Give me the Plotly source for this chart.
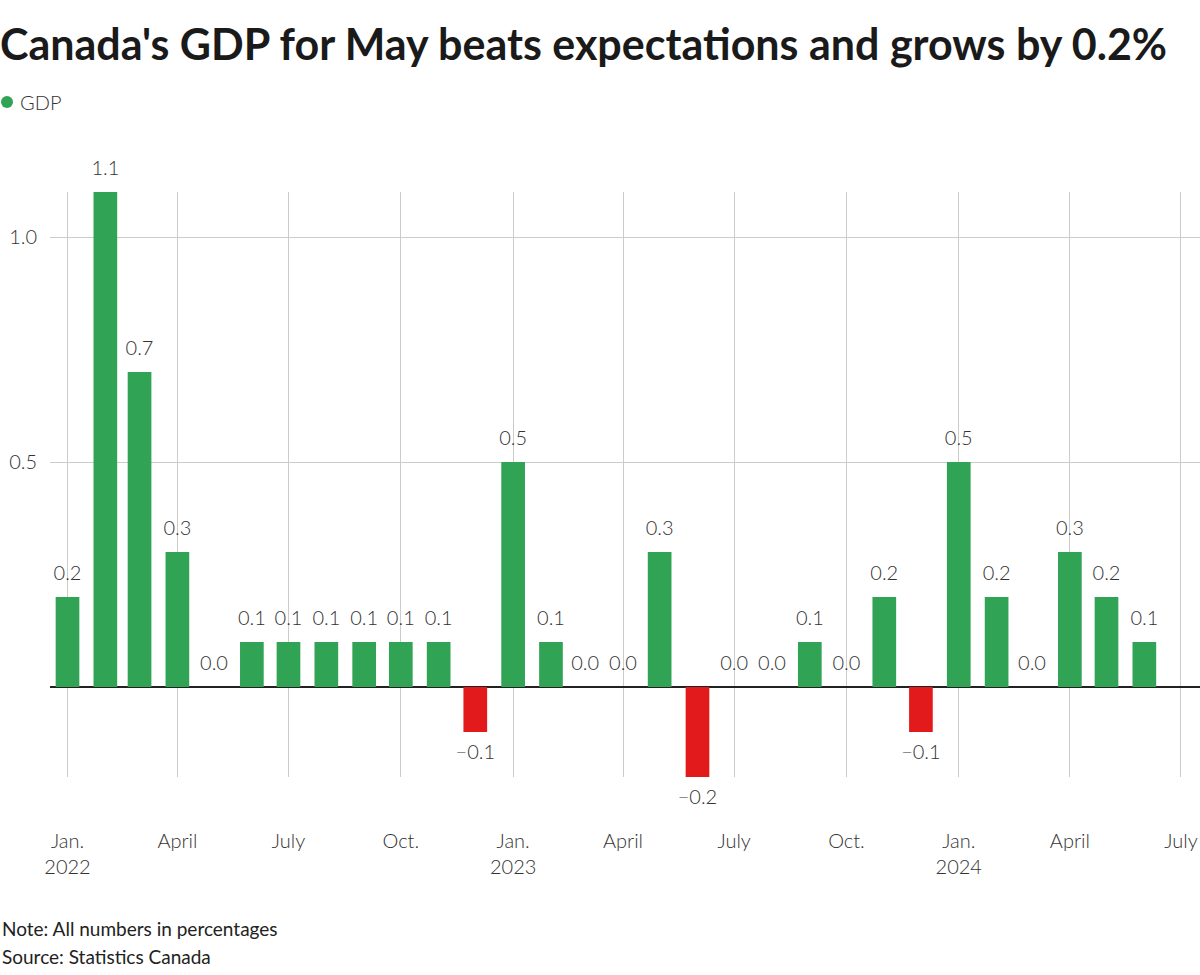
import plotly.graph_objects as go

months = [
    "2022-01-01", "2022-02-01", "2022-03-01", "2022-04-01", "2022-05-01", "2022-06-01",
    "2022-07-01", "2022-08-01", "2022-09-01", "2022-10-01", "2022-11-01", "2022-12-01",
    "2023-01-01", "2023-02-01", "2023-03-01", "2023-04-01", "2023-05-01", "2023-06-01",
    "2023-07-01", "2023-08-01", "2023-09-01", "2023-10-01", "2023-11-01", "2023-12-01",
    "2024-01-01", "2024-02-01", "2024-03-01", "2024-04-01", "2024-05-01", "2024-06-01",
]
gdp = [0.2, 1.1, 0.7, 0.3, 0.0, 0.1, 0.1, 0.1, 0.1, 0.1, 0.1, -0.1,
       0.5, 0.1, 0.0, 0.0, 0.3, -0.2, 0.0, 0.0, 0.1, 0.0, 0.2, -0.1,
       0.5, 0.2, 0.0, 0.3, 0.2, 0.1]

tick_dates = ["2022-01-01", "2022-04-01", "2022-07-01", "2022-10-01",
              "2023-01-01", "2023-04-01", "2023-07-01", "2023-10-01",
              "2024-01-01", "2024-04-01", "2024-07-01"]
tick_labels = ["Jan.<br>2022", "April", "July", "Oct.",
               "Jan.<br>2023", "April", "July", "Oct.",
               "Jan.<br>2024", "April", "July"]

GREEN = "#31a354"
RED = "#e31a1c"
FONT = "Lato, sans-serif"
TXT = "#333333"

colors = [GREEN if v >= 0 else RED for v in gdp]
labels = [("\u2212" if v < 0 else "") + f"{abs(v):.1f}" for v in gdp]
positions = ["bottom center" if v < 0 else "top center" for v in gdp]

fig = go.Figure()
fig.add_trace(go.Bar(
    x=months, y=gdp, name="GDP", marker=dict(color=colors, line=dict(width=0)),
    width=19.4 * 86400000, showlegend=False, hoverinfo="x+y",
))
fig.add_trace(go.Scatter(
    x=months, y=gdp, mode="markers+text", text=labels, textposition=positions,
    marker=dict(size=17, opacity=0, color=GREEN),
    textfont=dict(family=FONT, size=20, color=TXT, weight=300),
    showlegend=False, hoverinfo="skip", cliponaxis=False,
))

fig.update_layout(
    width=1200, height=975,
    margin=dict(l=50, r=0, t=192, b=198, autoexpand=False),
    paper_bgcolor="white", plot_bgcolor="white",
    title=dict(
        text="<b>Canada's GDP for May beats expectations and grows by 0.2%</b>",
        x=0.0, xref="container", xanchor="left",
        y=1 - 45 / 975, yref="container", yanchor="middle",
        pad=dict(l=0, r=0, t=0, b=0),
        font=dict(family=FONT, size=43, color="#1a1a1a"),
    ),
    showlegend=False,
)

# legend key: dot + series name
LEG_X = -50 / 1150
LEG_Y = (777 - 102) / 585
fig.add_shape(
    type="circle", xref="paper", yref="paper",
    xsizemode="pixel", ysizemode="pixel", xanchor=LEG_X, yanchor=LEG_Y,
    x0=1, x1=13, y0=-6, y1=6,
    fillcolor=GREEN, line=dict(width=0),
)
fig.add_annotation(
    text="GDP", xref="paper", yref="paper", x=LEG_X + 18 / 1150, y=LEG_Y,
    xanchor="left", yanchor="middle", showarrow=False,
    font=dict(family=FONT, size=20, color=TXT, weight=300),
)

fig.update_xaxes(
    type="date", automargin=False,
    range=["2021-12-17 16:00", "2024-07-16 14:00"],
    tickmode="array", tickvals=tick_dates, ticktext=tick_labels,
    showgrid=True, gridcolor="#cccccc", gridwidth=1,
    showline=False, ticks="", ticklabelstandoff=50,
    tickfont=dict(family=FONT, size=20, color=TXT, weight=300),
    zeroline=False,
)
fig.update_yaxes(
    range=[-0.2, 1.1], automargin=False,
    tickmode="array", tickvals=[0.5, 1.0], ticktext=["0.5", "1.0"],
    showgrid=True, gridcolor="#cccccc", gridwidth=1,
    zeroline=True, zerolinecolor="#222222", zerolinewidth=2,
    showline=False, ticks="", ticklabelstandoff=12,
    tickfont=dict(family=FONT, size=20, color=TXT, weight=300),
)

fig.add_annotation(
    text="Note: All numbers in percentages", xref="paper", yref="paper",
    x=-50 / 1150, y=-(928 - 777) / 585, xanchor="left", yanchor="middle",
    showarrow=False, font=dict(family=FONT, size=19, color="#222222"),
)
fig.add_annotation(
    text="Source: Statistics Canada", xref="paper", yref="paper",
    x=-50 / 1150, y=-(956 - 777) / 585, xanchor="left", yanchor="middle",
    showarrow=False, font=dict(family=FONT, size=19, color="#222222"),
)

fig.write_html(
    "out.html",
    config={"displayModeBar": False},
    post_script="document.body.style.margin='0';document.body.style.overflow='hidden';",
)
